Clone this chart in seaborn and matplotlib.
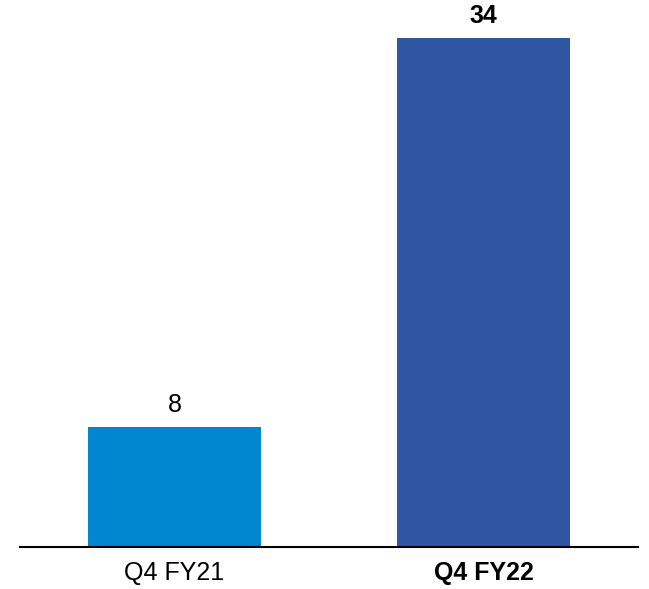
import numpy as np
import pandas as pd
from matplotlib import pyplot as plt
import seaborn as sns

# data
periods = ['Q4 FY21', 'Q4 FY22']
values = [8, 34]
colors = ['#0085CF', '#2F56A3']

df = pd.DataFrame({'period': periods, 'value': values})

sns.set_style('white')
plt.rcParams['font.family'] = ['Liberation Sans', 'DejaVu Sans']
plt.rcParams['text.color'] = 'black'
plt.rcParams['xtick.color'] = 'black'

fig = plt.figure(figsize=(6.49, 5.89), dpi=100)
ax = fig.add_axes([20 / 649, 42 / 589, 618 / 649, 547 / 589])

sns.barplot(data=df, x='period', y='value', hue='period', palette=colors,
            width=0.557, legend=False, ax=ax, saturation=1, linewidth=0)

ax.set_xlim(-0.5, 1.5)
ax.set_ylim(0, 36.54)

for i, v in enumerate(values):
    ax.annotate(str(v), (i, v), xytext=(0, 10), textcoords='offset pixels',
                ha='center', va='bottom', fontsize=18, color='black',
                fontweight='bold' if i == 1 else 'normal')

ax.set_xlabel('')
ax.set_ylabel('')
ax.set_yticks([])
ax.tick_params(axis='x', length=0, labelsize=18, pad=10, labelcolor='black')
for lbl in ax.get_xticklabels():
    if lbl.get_text() == 'Q4 FY22':
        lbl.set_fontweight('bold')

for s in ['top', 'right', 'left']:
    ax.spines[s].set_visible(False)
ax.spines['bottom'].set_color('black')
ax.spines['bottom'].set_linewidth(1.5)

fig.savefig('out.png', dpi=100)
